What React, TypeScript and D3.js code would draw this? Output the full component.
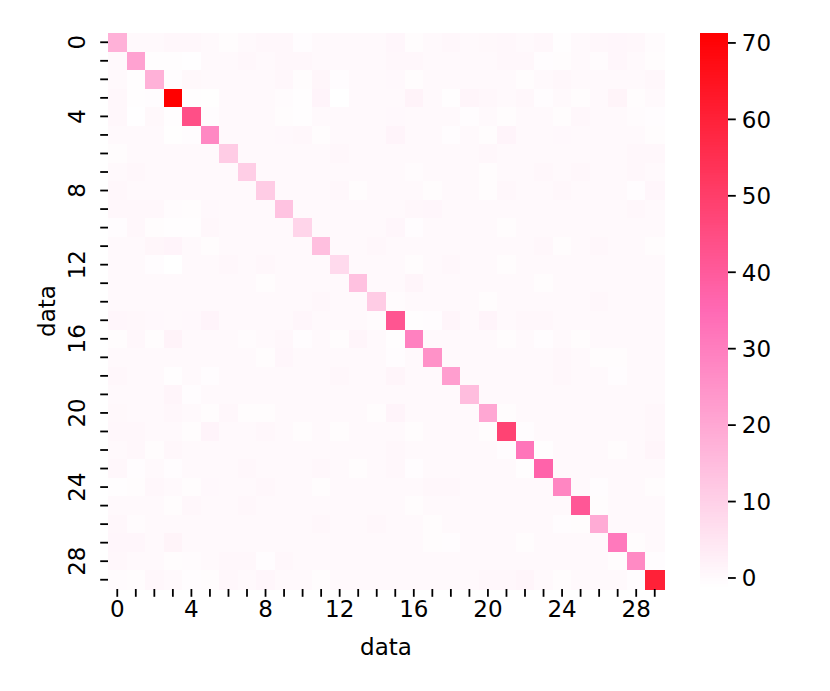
import React from "react";
import * as d3 from "d3";

// variances on the diagonal
const diag = [17.5, 21, 17.5, 71.3, 44, 27.5, 11, 10.5, 11, 13, 8.8, 14, 7.5, 13.5, 11, 42, 29, 25, 22, 14.5, 20, 48, 32, 37, 28, 41, 19, 31, 27, 60];

// off-diagonal covariances, upper triangle: row i holds cols i+1..29
const upper = [
  [0.1, 0.1, 0.5, 0.4, 0.1, -0.6, 0.0, 0.6, 0.5, -0.8, 0.1, 0.1, 0.0, 0.1, 0.7, -0.7, 0.1, 0.5, 0.0, 0.3, 0.6, 0.1, 0.6, -0.9, 0.1, 0.5, 0.7, 0.4, -0.5],
  [-0.9, -1.0, -1.2, 0.1, 0.0, 0.5, 0.1, 0.6, 0.5, 0.0, 0.1, 0.1, 0.1, 0.6, 0.4, 0.1, 0.1, 0.1, 0.0, 0.5, 0.6, -0.8, -0.6, 0.1, -0.4, 0.7, 0.0, -0.7],
  [-0.8, 0.3, 0.0, 0.1, 0.1, 0.0, 0.5, -0.7, 0.8, -0.8, 0.1, 0.1, 0.2, -0.6, 0.1, 0.0, 0.1, 0.1, 0.0, -0.6, 0.1, 0.6, 0.0, 0.1, 0.0, 0.1, 0.5],
  [-0.9, -1.1, 0.1, 0.0, 0.1, -0.5, -1.0, 1.2, -1.44, 0.0, 0.1, 0.0, 1.4, 0.1, -0.9, 1.1, 0.6, 0.1, 0.6, -0.8, 0.0, -0.7, 0.1, 1.3, -0.6, 0.0],
  [-0.8, 0.0, 0.1, 0.0, -0.7, -0.9, 0.0, 0.1, 0.0, 0.1, 0.2, 0.0, 0.1, 0.0, -0.8, 0.0, -0.6, 0.1, 0.0, -0.7, 0.6, 0.0, 0.1, -0.5, -0.8],
  [0.0, 0.1, 0.0, 0.2, 0.6, -0.7, 0.0, 0.1, 0.0, 1.2, 0.1, 0.0, -0.8, 0.1, -0.6, 1.2, 0.0, 0.1, 0.2, 0.0, 0.1, 0.0, 0.1, -0.7],
  [0.1, 0.0, 0.1, 0.0, 0.1, 0.6, 0.0, 0.1, 0.0, 0.1, 0.0, 0.1, 0.0, 0.5, 0.1, 0.0, 0.1, 0.0, 0.1, 0.0, 0.1, 0.6, 0.5],
  [0.0, 0.1, 0.0, 0.1, 0.0, 0.1, 0.0, 0.1, -0.5, 0.0, 0.1, 0.0, -0.6, 0.1, 0.0, 0.6, 0.1, 0.5, 0.0, 0.1, 0.6, 0.0],
  [0.1, 0.0, 0.1, 0.6, -0.7, 0.0, 0.1, 0.0, -0.6, 0.1, 0.0, -0.7, 0.6, 0.1, 0.0, 0.6, 0.1, 0.0, 0.1, -0.8, 0.7],
  [0.0, 0.1, 0.0, 0.1, 0.0, 0.1, 0.6, 0.7, 0.1, 0.0, 0.1, 0.0, 0.1, 0.0, 0.1, 0.0, 0.1, 0.0, 0.5, 0.1],
  [0.1, 0.0, 0.1, 0.0, 0.7, -0.8, 0.1, 0.0, 0.1, 0.0, -0.6, 0.1, 0.0, 0.1, 0.0, 0.1, 0.0, 0.1, 0.0],
  [0.0, 0.1, 0.6, 0.0, 0.1, 0.0, 0.1, 0.0, 0.1, 0.0, 0.1, 0.6, -0.7, 0.1, 0.5, 0.0, 0.1, -0.6],
  [0.1, 0.0, 0.1, -0.7, 0.0, 0.6, 0.1, 0.0, -0.6, 0.1, 0.0, 0.1, 0.0, 0.1, 0.0, 0.1, 0.0],
  [0.0, 0.1, 1.0, 0.0, 0.1, 0.0, 0.1, 0.0, 0.1, -0.7, 0.0, 0.1, 0.0, 0.1, 0.0, 0.1],
  [-0.5, 0.0, 0.1, 0.0, 0.1, -0.7, 0.0, 0.1, 0.0, 0.1, 0.0, 0.6, 0.1, 0.0, 0.1],
  [-0.9, -0.8, 1.0, 0.0, 1.2, 0.1, 0.6, 0.5, 0.0, 0.1, 0.0, 0.1, 0.0, 0.1],
  [0.1, 0.0, 0.1, 0.0, -0.7, 0.1, -0.8, 0.0, -0.6, 0.1, 0.0, 0.1, 0.0],
  [0.0, 0.1, 0.0, 0.1, 0.0, 0.1, 0.6, 0.0, -0.7, -0.6, 0.1, 0.0],
  [0.1, 0.0, 0.1, 0.0, 0.1, 0.6, 0.1, 0.0, -0.8, 0.1, 0.0],
  [0.0, 0.1, 0.0, 0.1, 0.0, 0.1, 0.0, 0.1, 0.0, 0.1],
  [-0.7, 0.0, 0.1, 0.0, 0.1, 0.0, 0.1, 0.0, 0.6],
  [-0.8, 0.1, 0.0, 0.1, 0.0, 0.1, 0.0, 0.6],
  [-0.9, 0.0, 0.1, 0.0, -0.7, 0.1, 0.9],
  [0.1, 0.0, 0.1, 0.0, 0.1, 0.0],
  [0.0, -0.8, 0.1, 0.0, -0.7],
  [-0.7, 0.1, 0.0, 0.1],
  [0.0, 0.1, 0.0],
  [-0.6, 0.1],
  [-0.8],
];

const xTickLabels = [0, 4, 8, 12, 16, 20, 24, 28];
const yTickLabels = [0, 4, 8, 12, 16, 20, 24, 28];
const cbarTicks = [0, 10, 20, 30, 40, 50, 60, 70];
const axisTitle = "data";

const n = diag.length;
const matrix: number[][] = d3.range(n).map((i) =>
  d3.range(n).map((j) => {
    if (i === j) return diag[i];
    const a = Math.min(i, j);
    const b = Math.max(i, j);
    return upper[a][b - a - 1];
  })
);
const cells = matrix.flatMap((row, i) => row.map((v, j) => ({ i, j, v })));

const W = 830;
const H = 691;
const left = 108;
const top = 33;
const size = 556;
const cbX = 700;
const cbW = 28;
const font = "DejaVu Sans, sans-serif";
const fs = 23;

export default function App() {
  const vmin = d3.min(cells, (d) => d.v) as number;
  const vmax = d3.max(cells, (d) => d.v) as number;

  const x = d3.scaleBand<number>().domain(d3.range(n)).range([left, left + size]);
  const y = d3.scaleBand<number>().domain(d3.range(n)).range([top, top + size]);
  const color = d3
    .scaleLinear<string>()
    .domain([vmin, (vmin + vmax) / 2, vmax])
    .range(["#ffffff", "#ff69b4", "#ff0000"])
    .interpolate(d3.interpolateRgb);
  const cbY = d3.scaleLinear().domain([vmin, vmax]).range([top + size, top]);
  const steps = d3.range(200).map((k) => vmin + ((vmax - vmin) * k) / 200);
  const stepH = size / 200;

  const tickLen = 7.8;

  return (
    <svg width={W} height={H} style={{ display: "block", position: "absolute", left: 0, top: 0 }} fontFamily={font}>
      <rect width={W} height={H} fill="#fff" />
      <g shapeRendering="crispEdges">
        {cells.map((d) => (
          <rect
            key={`${d.i}-${d.j}`}
            x={x(d.j)}
            y={y(d.i)}
            width={x.bandwidth() + 0.5}
            height={y.bandwidth() + 0.5}
            fill={color(d.v)}
          />
        ))}
      </g>
      {/* x ticks */}
      {d3.range(n).map((j) => (
        <line
          key={`xt${j}`}
          x1={x(j)! + x.bandwidth() / 2}
          x2={x(j)! + x.bandwidth() / 2}
          y1={top + size}
          y2={top + size + tickLen}
          stroke="#000"
          strokeWidth={1.8}
        />
      ))}
      {xTickLabels.map((t) => (
        <text key={`xl${t}`} x={x(t)! + x.bandwidth() / 2} y={617} textAnchor="middle" fontSize={fs}>
          {t}
        </text>
      ))}
      {/* y ticks */}
      {d3.range(n).map((i) => (
        <line
          key={`yt${i}`}
          x1={left - tickLen}
          x2={left}
          y1={y(i)! + y.bandwidth() / 2}
          y2={y(i)! + y.bandwidth() / 2}
          stroke="#000"
          strokeWidth={1.8}
        />
      ))}
      {yTickLabels.map((t) => (
        <text
          key={`yl${t}`}
          transform={`translate(85, ${y(t)! + y.bandwidth() / 2}) rotate(-90)`}
          textAnchor="middle"
          fontSize={fs}
        >
          {t}
        </text>
      ))}
      <text x={left + size / 2} y={655} textAnchor="middle" fontSize={fs}>
        {axisTitle}
      </text>
      <text transform={`translate(55, ${top + size / 2}) rotate(-90)`} textAnchor="middle" fontSize={fs}>
        {axisTitle}
      </text>
      {/* colorbar */}
      <g shapeRendering="crispEdges">
        {steps.map((v, k) => (
          <rect key={`cb${k}`} x={cbX} y={cbY(v) - stepH - 0.5} width={cbW} height={stepH + 1} fill={color(v)} />
        ))}
      </g>
      {cbarTicks.map((t) => (
        <g key={`cbt${t}`}>
          <line x1={cbX + cbW} x2={cbX + cbW + tickLen} y1={cbY(t)} y2={cbY(t)} stroke="#000" strokeWidth={1.8} />
          <text x={cbX + cbW + tickLen + 6} y={cbY(t)} dy="0.36em" fontSize={fs}>
            {t}
          </text>
        </g>
      ))}
    </svg>
  );
}
